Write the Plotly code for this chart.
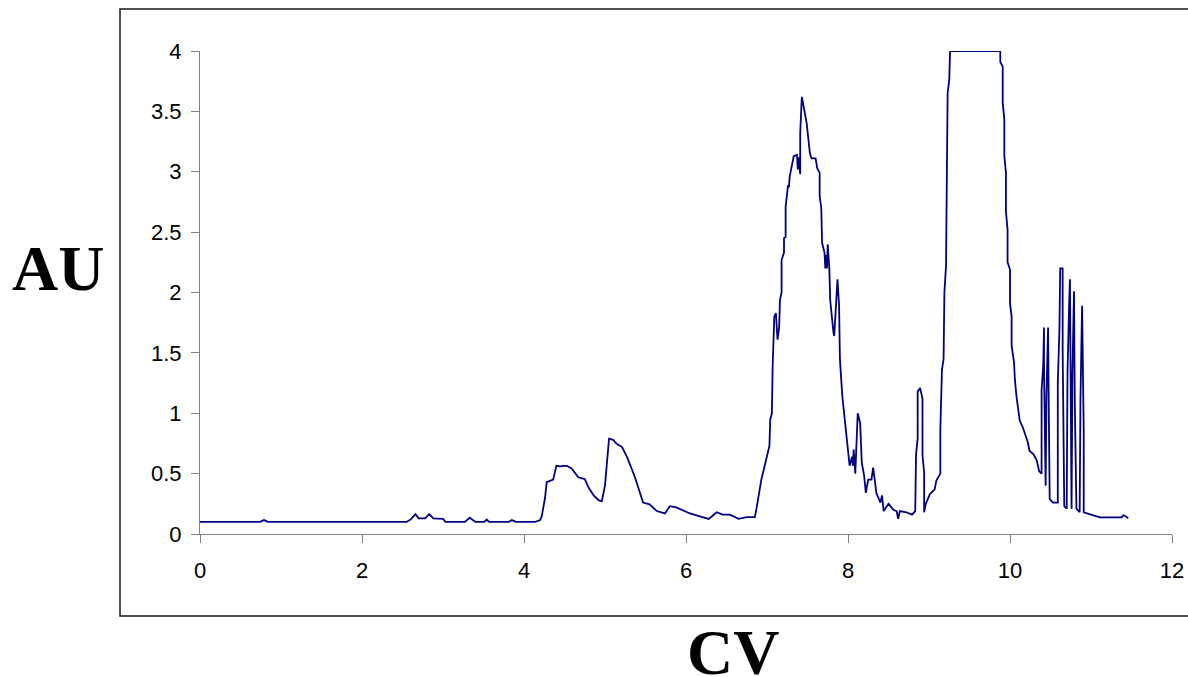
import plotly.graph_objects as go

cv = [0, 0.74, 0.79, 0.84, 2.55, 2.60, 2.66, 2.70, 2.78, 2.83, 2.88, 3.00, 3.03, 3.27, 3.33, 3.40,
      3.51, 3.54, 3.57, 3.81, 3.85, 3.90, 4.14, 4.20, 4.22, 4.26, 4.28, 4.32, 4.36, 4.40, 4.45, 4.48,
      4.53, 4.59, 4.67, 4.75, 4.80, 4.86, 4.92, 4.96, 5.00, 5.02, 5.05, 5.10, 5.14, 5.21, 5.27, 5.37,
      5.47, 5.55, 5.64, 5.74, 5.80, 5.88, 5.97, 6.05, 6.15, 6.28, 6.38, 6.45, 6.54, 6.65, 6.75, 6.85,
      6.87, 6.90, 6.93, 6.98, 7.03, 7.04, 7.06, 7.07, 7.09, 7.11, 7.13, 7.15, 7.16, 7.18, 7.18, 7.21,
      7.21, 7.23, 7.23, 7.26, 7.27, 7.28, 7.30, 7.33, 7.37, 7.38, 7.39, 7.41, 7.41, 7.43, 7.45, 7.49,
      7.53, 7.55, 7.60, 7.62, 7.65, 7.65, 7.67, 7.68, 7.71, 7.72, 7.73, 7.74, 7.75, 7.77, 7.78, 7.80,
      7.82, 7.83, 7.85, 7.87, 7.89, 7.90, 7.93, 7.95, 7.97, 8.00, 8.02, 8.05, 8.06, 8.07, 8.09, 8.12,
      8.15, 8.17, 8.20, 8.22, 8.25, 8.29, 8.31, 8.33, 8.35, 8.40, 8.42, 8.44, 8.50, 8.56, 8.60, 8.62,
      8.64, 8.72, 8.79, 8.83, 8.84, 8.86, 8.86, 8.89, 8.92, 8.92, 8.94, 8.94, 8.96, 9.01, 9.07, 9.09,
      9.14, 9.14, 9.16, 9.18, 9.19, 9.21, 9.22, 9.23, 9.25, 9.26, 9.88, 9.88, 9.91, 9.91, 9.93, 9.93,
      9.95, 9.95, 9.97, 9.97, 10.00, 10.00, 10.02, 10.02, 10.05, 10.06, 10.08, 10.10, 10.12, 10.16,
      10.19, 10.22, 10.24, 10.29, 10.33, 10.36, 10.39, 10.39, 10.41, 10.42, 10.42, 10.44, 10.45,
      10.47, 10.48, 10.49, 10.53, 10.59, 10.59, 10.61, 10.62, 10.65, 10.65, 10.67, 10.70, 10.71,
      10.73, 10.74, 10.75, 10.76, 10.77, 10.79, 10.80, 10.82, 10.86, 10.87, 10.89, 10.90, 10.91,
      10.91, 10.99, 11.11, 11.38, 11.40, 11.42, 11.46]

au = [0.10, 0.10, 0.115, 0.10, 0.10, 0.12, 0.165, 0.13, 0.13, 0.165, 0.13, 0.125, 0.10, 0.10, 0.135, 0.10,
      0.10, 0.12, 0.10, 0.10, 0.115, 0.10, 0.10, 0.115, 0.15, 0.30, 0.43, 0.44, 0.45, 0.565, 0.56, 0.565,
      0.565, 0.54, 0.47, 0.455, 0.38, 0.32, 0.28, 0.27, 0.40, 0.56, 0.79, 0.78, 0.75, 0.72, 0.64, 0.47,
      0.26, 0.245, 0.19, 0.17, 0.23, 0.22, 0.19, 0.17, 0.15, 0.125, 0.18, 0.16, 0.16, 0.125, 0.14, 0.14,
      0.21, 0.32, 0.45, 0.59, 0.73, 0.95, 1.00, 1.39, 1.80, 1.83, 1.61, 1.71, 1.94, 2.00, 2.27, 2.33,
      2.45, 2.46, 2.71, 2.89, 2.87, 2.96, 3.04, 3.13, 3.14, 3.02, 3.12, 2.98, 3.32, 3.62, 3.55, 3.40,
      3.15, 3.11, 3.11, 3.03, 2.99, 2.80, 2.70, 2.41, 2.33, 2.20, 2.31, 2.20, 2.40, 2.19, 1.94, 1.78,
      1.67, 1.64, 1.94, 2.11, 1.89, 1.45, 1.14, 1.00, 0.90, 0.70, 0.565, 0.64, 0.565, 0.70, 0.50, 1.00,
      0.92, 0.59, 0.48, 0.34, 0.45, 0.45, 0.55, 0.45, 0.34, 0.26, 0.32, 0.19, 0.25, 0.20, 0.19, 0.125,
      0.19, 0.18, 0.16, 0.19, 0.66, 0.79, 1.18, 1.21, 1.12, 0.65, 0.51, 0.18, 0.25, 0.33, 0.37, 0.44,
      0.50, 0.87, 1.36, 1.45, 2.00, 2.22, 2.93, 3.65, 3.76, 4.00, 4.00, 3.91, 3.87, 3.57, 3.43, 3.13,
      2.99, 2.67, 2.52, 2.25, 2.19, 1.91, 1.80, 1.56, 1.42, 1.28, 1.14, 1.05, 0.94, 0.88,
      0.81, 0.76, 0.69, 0.66, 0.61, 0.52, 0.50, 1.19, 1.39, 1.71, 1.36, 0.40, 1.14,
      1.71, 0.95, 0.29, 0.26, 0.26, 1.25, 1.69, 2.20, 2.20, 1.53, 0.23, 0.21, 1.34,
      1.90, 2.11, 1.16, 0.21, 1.30, 2.01, 1.09, 0.21, 0.18, 1.12, 1.89, 1.19, 0.87,
      0.18, 0.165, 0.138, 0.138, 0.157, 0.15, 0.13]

x_ticks = [0, 2, 4, 6, 8, 10, 12]
y_ticks = [0, 0.5, 1, 1.5, 2, 2.5, 3, 3.5, 4]
y_tick_labels = ["0", "0.5", "1", "1.5", "2", "2.5", "3", "3.5", "4"]

W, H = 1188, 677
PLOT_X0, PLOT_X1, PLOT_Y0, PLOT_Y1 = 200, 1172, 51, 534   # plot area in page pixels
L, R, T, B = PLOT_X0, W - PLOT_X1, PLOT_Y0, H - PLOT_Y1
pw, ph = W - L - R, H - T - B

def px2paper(px, py):
    return (px - PLOT_X0) / pw, (PLOT_Y1 - py) / ph

fig = go.Figure()
fig.add_trace(go.Scatter(x=cv, y=au, mode="lines",
                         line=dict(color="#000080", width=1.8), showlegend=False,
                         cliponaxis=False))

axis_font = dict(family="Liberation Sans, Arial, sans-serif", size=22, color="#000000")
fig.update_xaxes(range=[0, 12], tickvals=x_ticks, ticktext=[str(v) for v in x_ticks],
                 showgrid=False, zeroline=False, showline=True, linecolor="#808080", linewidth=1,
                 ticks="outside", ticklen=8, tickcolor="#808080", tickwidth=1, automargin=False,
                 ticklabelstandoff=9, tickfont=axis_font, fixedrange=True)
fig.update_yaxes(range=[0, 4], tickvals=y_ticks, ticktext=y_tick_labels,
                 showgrid=False, zeroline=False, showline=True, linecolor="#808080", linewidth=1,
                 ticks="outside", ticklen=8, tickcolor="#808080", tickwidth=1, automargin=False,
                 ticklabelstandoff=5, tickfont=axis_font, fixedrange=True)

x0, y0 = px2paper(120, 616)
x1, y1 = px2paper(1300, 9)
fig.add_shape(type="rect", xref="paper", yref="paper", x0=x0, y0=y0, x1=x1, y1=y1,
              line=dict(color="#1a1a1a", width=1.5), fillcolor="rgba(0,0,0,0)", layer="below")

title_font = dict(family="Liberation Serif, Times New Roman, serif", size=64, color="#000000")
ax, ay = px2paper(58, 268)
fig.add_annotation(text="<b>AU</b>", xref="paper", yref="paper", x=ax, y=ay,
                   xanchor="center", yanchor="middle", showarrow=False, font=title_font)
cx, cy = px2paper(733, 652)
fig.add_annotation(text="<b>CV</b>", xref="paper", yref="paper", x=cx, y=cy,
                   xanchor="center", yanchor="middle", showarrow=False, font=title_font)

fig.update_layout(width=W, height=H, margin=dict(l=L, r=R, t=T, b=B, pad=0, autoexpand=False),
                  plot_bgcolor="white", paper_bgcolor="white")

fig.write_html("out.html", config={"responsive": False, "displayModeBar": False},
               post_script="document.body.style.margin='0';document.body.style.overflow='hidden';")
